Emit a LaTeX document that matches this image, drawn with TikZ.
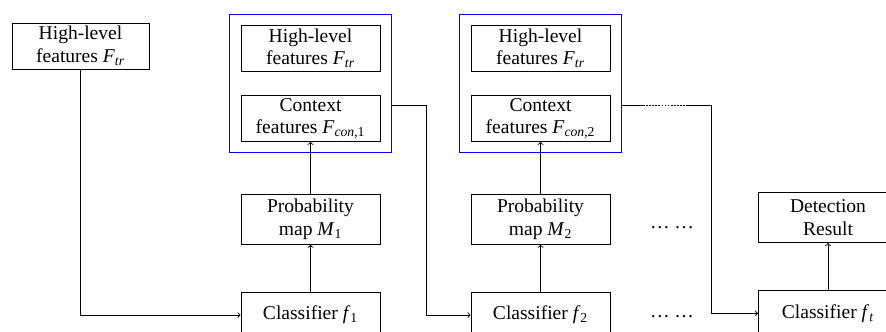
\documentclass[tikz,border=0pt]{standalone}
\usepackage{fontspec}
\setmainfont{Liberation Serif}
\usetikzlibrary{positioning, fit, arrows}

\newcommand{\sym}[2]{\textit{#1}\textsubscript{#2}}

\begin{document}
\begin{tikzpicture}[x=0.025cm, y=-0.025cm,
    box/.style={draw, line width=0.6pt, minimum width=3.475cm, minimum height=1.15cm,
                inner sep=0pt, align=center, font=\fontsize{13.9}{16}\selectfont},
    grp/.style={draw=blue, line width=0.6pt, inner sep=0.275cm},
    link/.style={line width=0.6pt, ->}]
    \useasboundingbox (0,0) rectangle (886,331);
    \clip (0,0) rectangle (886,331);

    % input features
    \node[box, minimum width=3.425cm] (feat) at (80.5,46) {High-level\\features \sym{F}{\textit{tr}}};

    % two stages
    \foreach \i/\x in {1/310.5, 2/540.5} {
        \node[box] (hl\i) at (\x,48.5) {High-level\\features \sym{F}{\textit{tr}}};
        \node[box, below=0.575cm of hl\i] (con\i) {Context\\features \sym{F}{\textit{con},\i}};
        \node[grp, fit=(hl\i)(con\i)] (grp\i) {};
        \node[box, minimum height=1.25cm, below=1.3cm of con\i] (prob\i) {Probability\\map \sym{M}{\i}};
        \node[box, below=1.175cm of prob\i] (cls\i) {Classifier \sym{f}{\i}};
        \draw[link] (cls\i) -- (prob\i);
        \draw[link] (prob\i) -- (con\i);
    }

    % last stage
    \node[box, minimum height=1.25cm] (det) at (828,217.5) {Detection\\Result};
    \node[box, below=1.175cm of det] (clst) {Classifier \sym{f}{\textit{t}}};
    \draw[link] (clst) -- (det);

    \node[font=\fontsize{13.9}{16}\selectfont, anchor=base] (dotsA) at (672,228) {\ldots\ \ldots};
    \node[font=\fontsize{13.9}{16}\selectfont, anchor=base] (dotsB) at (672,317) {\ldots\ \ldots};

    % connections
    \draw[link] (feat.south) |- (cls1.west);
    \draw[link] (grp1.east |- 0,105) -- ++(35,0) |- (cls2.west);

    \coordinate (gapA) at (643,105);
    \coordinate (gapB) at (688,105);
    \draw[line width=0.6pt] (grp2.east |- gapA) -- (gapA);
    \draw[line width=0.6pt, dash pattern=on 1.2pt off 1pt] (gapA) -- (gapB);
    \draw[link] (gapB) -- ++(23,0) |- (clst.west);
\end{tikzpicture}
\end{document}
